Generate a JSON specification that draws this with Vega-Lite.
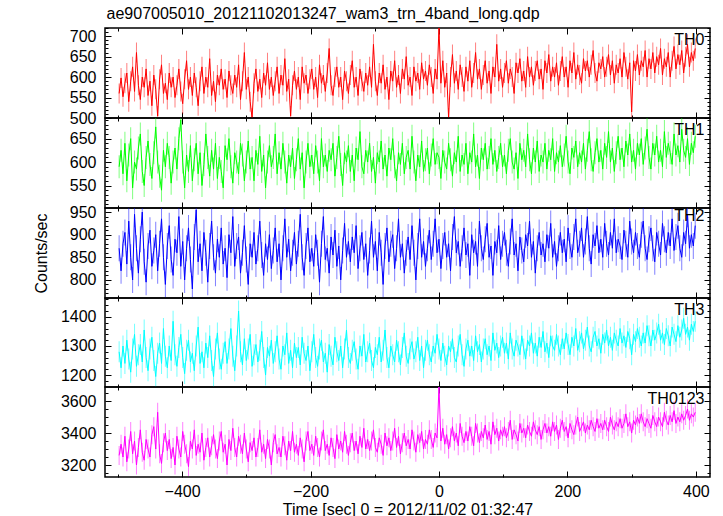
{
"$schema": "https://vega.github.io/schema/vega-lite/v6.json",
"padding": {"left": 32, "top": 5, "right": 5, "bottom": 0},
"title": {"text": "ae907005010_20121102013247_wam3_trn_4band_long.qdp", "anchor": "start", "offset": 5, "dx": 74},
"spacing": 0,
"bounds": "flush",
"config": {
"font": "Liberation Sans",
"view": {"stroke": "black", "strokeWidth": 1.5},
"axis": {"domain": false, "grid": false, "tickColor": "black", "tickSize": -6, "tickWidth": 1, "labelFont": "Liberation Sans", "labelFontSize": 16, "labelColor": "black", "labelPadding": 15, "labelOverlap": false, "labelFlush": false, "titleFont": "Liberation Sans", "titleFontSize": 16, "titleFontWeight": "normal", "titleColor": "black", "format": "d"},
"title": {"font": "Liberation Sans", "fontSize": 16, "fontWeight": "normal", "color": "black"}
},
"data": {"values": [
{"t":-498,"a":560,"b":590,"c":870,"d":1280,"e":3260},
{"t":-495,"a":598,"b":625,"c":820,"d":1225,"e":3330},
{"t":-492,"a":552,"b":575,"c":880,"d":1300,"e":3250},
{"t":-489,"a":585,"b":640,"c":905,"d":1240,"e":3380},
{"t":-486,"a":610,"b":560,"c":835,"d":1320,"e":3220},
{"t":-483,"a":540,"b":615,"c":930,"d":1255,"e":3300},
{"t":-480,"a":590,"b":650,"c":850,"d":1210,"e":3410},
{"t":-477,"a":625,"b":545,"c":800,"d":1290,"e":3270},
{"t":-474,"a":565,"b":600,"c":945,"d":1340,"e":3350},
{"t":-471,"a":660,"b":585,"c":870,"d":1230,"e":3200},
{"t":-468,"a":580,"b":630,"c":815,"d":1270,"e":3310},
{"t":-465,"a":545,"b":660,"c":890,"d":1305,"e":3420},
{"t":-462,"a":600,"b":580,"c":950,"d":1245,"e":3280},
{"t":-459,"a":575,"b":550,"c":840,"d":1355,"e":3230},
{"t":-456,"a":620,"b":610,"c":795,"d":1260,"e":3360},
{"t":-453,"a":555,"b":645,"c":875,"d":1215,"e":3300},
{"t":-450,"a":590,"b":595,"c":910,"d":1290,"e":3250},
{"t":-447,"a":530,"b":565,"c":830,"d":1330,"e":3390},
{"t":-444,"a":605,"b":620,"c":865,"d":1250,"e":3440},
{"t":-441,"a":570,"b":675,"c":900,"d":1195,"e":3300},
{"t":-438,"a":505,"b":600,"c":820,"d":1275,"e":3530},
{"t":-435,"a":595,"b":570,"c":880,"d":1310,"e":3270},
{"t":-432,"a":630,"b":540,"c":935,"d":1240,"e":3210},
{"t":-429,"a":560,"b":625,"c":850,"d":1360,"e":3340},
{"t":-426,"a":585,"b":590,"c":790,"d":1265,"e":3400},
{"t":-423,"a":545,"b":640,"c":875,"d":1225,"e":3290},
{"t":-420,"a":610,"b":610,"c":920,"d":1300,"e":3360},
{"t":-417,"a":575,"b":555,"c":845,"d":1250,"e":3240},
{"t":-414,"a":600,"b":600,"c":810,"d":1385,"e":3310},
{"t":-411,"a":550,"b":630,"c":890,"d":1270,"e":3200},
{"t":-408,"a":580,"b":585,"c":860,"d":1230,"e":3380},
{"t":-405,"a":620,"b":650,"c":940,"d":1295,"e":3300},
{"t":-402,"a":565,"b":690,"c":830,"d":1340,"e":3250},
{"t":-399,"a":535,"b":600,"c":885,"d":1260,"e":3410},
{"t":-396,"a":595,"b":545,"c":800,"d":1205,"e":3330},
{"t":-393,"a":640,"b":615,"c":870,"d":1285,"e":3270},
{"t":-390,"a":570,"b":580,"c":915,"d":1320,"e":3190},
{"t":-387,"a":600,"b":635,"c":845,"d":1245,"e":3350},
{"t":-384,"a":555,"b":560,"c":780,"d":1275,"e":3300},
{"t":-381,"a":610,"b":605,"c":895,"d":1215,"e":3420},
{"t":-378,"a":575,"b":640,"c":955,"d":1300,"e":3260},
{"t":-375,"a":530,"b":575,"c":840,"d":1365,"e":3330},
{"t":-372,"a":590,"b":620,"c":880,"d":1240,"e":3280},
{"t":-369,"a":625,"b":550,"c":820,"d":1280,"e":3400},
{"t":-366,"a":560,"b":595,"c":905,"d":1225,"e":3230},
{"t":-363,"a":600,"b":660,"c":860,"d":1310,"e":3310},
{"t":-360,"a":575,"b":610,"c":795,"d":1260,"e":3370},
{"t":-357,"a":645,"b":570,"c":875,"d":1335,"e":3250},
{"t":-354,"a":555,"b":625,"c":930,"d":1250,"e":3320},
{"t":-351,"a":590,"b":585,"c":850,"d":1195,"e":3390},
{"t":-348,"a":540,"b":640,"c":815,"d":1290,"e":3300},
{"t":-345,"a":605,"b":565,"c":890,"d":1345,"e":3240},
{"t":-342,"a":580,"b":610,"c":850,"d":1255,"e":3350},
{"t":-339,"a":620,"b":580,"c":915,"d":1220,"e":3410},
{"t":-336,"a":570,"b":545,"c":835,"d":1275,"e":3280},
{"t":-333,"a":595,"b":635,"c":870,"d":1315,"e":3330},
{"t":-330,"a":550,"b":605,"c":805,"d":1240,"e":3200},
{"t":-327,"a":615,"b":650,"c":900,"d":1290,"e":3360},
{"t":-324,"a":580,"b":590,"c":860,"d":1360,"e":3290},
{"t":-321,"a":560,"b":555,"c":940,"d":1265,"e":3430},
{"t":-318,"a":605,"b":620,"c":830,"d":1215,"e":3310},
{"t":-315,"a":575,"b":600,"c":875,"d":1300,"e":3250},
{"t":-312,"a":630,"b":575,"c":895,"d":1420,"e":3380},
{"t":-309,"a":545,"b":640,"c":815,"d":1280,"e":3330},
{"t":-306,"a":590,"b":615,"c":860,"d":1235,"e":3270},
{"t":-303,"a":660,"b":560,"c":920,"d":1325,"e":3400},
{"t":-300,"a":570,"b":600,"c":845,"d":1250,"e":3300},
{"t":-297,"a":600,"b":645,"c":790,"d":1290,"e":3220},
{"t":-294,"a":540,"b":585,"c":880,"d":1340,"e":3340},
{"t":-291,"a":500,"b":610,"c":850,"d":1230,"e":3290},
{"t":-288,"a":585,"b":560,"c":905,"d":1270,"e":3370},
{"t":-285,"a":620,"b":625,"c":835,"d":1305,"e":3250},
{"t":-282,"a":565,"b":595,"c":870,"d":1245,"e":3310},
{"t":-279,"a":595,"b":655,"c":930,"d":1285,"e":3420},
{"t":-276,"a":550,"b":580,"c":855,"d":1350,"e":3280},
{"t":-273,"a":610,"b":615,"c":810,"d":1260,"e":3330},
{"t":-270,"a":580,"b":545,"c":880,"d":1200,"e":3240},
{"t":-267,"a":635,"b":600,"c":845,"d":1295,"e":3360},
{"t":-264,"a":570,"b":635,"c":900,"d":1265,"e":3300},
{"t":-261,"a":600,"b":590,"c":825,"d":1320,"e":3200},
{"t":-258,"a":555,"b":610,"c":865,"d":1240,"e":3340},
{"t":-255,"a":590,"b":660,"c":915,"d":1280,"e":3390},
{"t":-252,"a":625,"b":575,"c":840,"d":1335,"e":3270},
{"t":-249,"a":560,"b":620,"c":880,"d":1255,"e":3310},
{"t":-246,"a":605,"b":585,"c":800,"d":1220,"e":3250},
{"t":-243,"a":580,"b":640,"c":870,"d":1300,"e":3380},
{"t":-240,"a":645,"b":600,"c":935,"d":1270,"e":3320},
{"t":-237,"a":565,"b":555,"c":850,"d":1345,"e":3230},
{"t":-234,"a":595,"b":615,"c":890,"d":1240,"e":3350},
{"t":-231,"a":505,"b":590,"c":820,"d":1285,"e":3290},
{"t":-228,"a":580,"b":630,"c":860,"d":1225,"e":3410},
{"t":-225,"a":615,"b":565,"c":905,"d":1310,"e":3280},
{"t":-222,"a":570,"b":605,"c":835,"d":1260,"e":3330},
{"t":-219,"a":600,"b":650,"c":880,"d":1295,"e":3260},
{"t":-216,"a":545,"b":585,"c":945,"d":1235,"e":3370},
{"t":-213,"a":625,"b":620,"c":850,"d":1330,"e":3300},
{"t":-210,"a":585,"b":545,"c":810,"d":1275,"e":3220},
{"t":-207,"a":605,"b":600,"c":875,"d":1250,"e":3350},
{"t":-204,"a":560,"b":640,"c":915,"d":1300,"e":3410},
{"t":-201,"a":595,"b":590,"c":840,"d":1215,"e":3290},
{"t":-198,"a":620,"b":615,"c":870,"d":1280,"e":3330},
{"t":-195,"a":570,"b":575,"c":830,"d":1340,"e":3260},
{"t":-192,"a":600,"b":635,"c":900,"d":1260,"e":3380},
{"t":-189,"a":550,"b":600,"c":860,"d":1230,"e":3310},
{"t":-186,"a":630,"b":560,"c":795,"d":1290,"e":3250},
{"t":-183,"a":585,"b":650,"c":880,"d":1320,"e":3350},
{"t":-180,"a":605,"b":590,"c":940,"d":1245,"e":3420},
{"t":-177,"a":565,"b":615,"c":845,"d":1275,"e":3290},
{"t":-174,"a":610,"b":580,"c":870,"d":1210,"e":3330},
{"t":-171,"a":670,"b":625,"c":815,"d":1305,"e":3260},
{"t":-168,"a":580,"b":605,"c":895,"d":1265,"e":3370},
{"t":-165,"a":555,"b":640,"c":855,"d":1235,"e":3310},
{"t":-162,"a":600,"b":570,"c":910,"d":1330,"e":3240},
{"t":-159,"a":625,"b":610,"c":830,"d":1280,"e":3390},
{"t":-156,"a":575,"b":655,"c":875,"d":1250,"e":3300},
{"t":-153,"a":600,"b":595,"c":800,"d":1300,"e":3350},
{"t":-150,"a":545,"b":550,"c":865,"d":1225,"e":3280},
{"t":-147,"a":615,"b":620,"c":925,"d":1290,"e":3410},
{"t":-144,"a":590,"b":600,"c":850,"d":1355,"e":3330},
{"t":-141,"a":560,"b":635,"c":885,"d":1260,"e":3260},
{"t":-138,"a":605,"b":580,"c":840,"d":1240,"e":3340},
{"t":-135,"a":640,"b":615,"c":895,"d":1285,"e":3400},
{"t":-132,"a":575,"b":560,"c":860,"d":1315,"e":3290},
{"t":-129,"a":600,"b":630,"c":920,"d":1255,"e":3350},
{"t":-126,"a":555,"b":605,"c":825,"d":1220,"e":3270},
{"t":-123,"a":620,"b":665,"c":870,"d":1300,"e":3380},
{"t":-120,"a":590,"b":590,"c":905,"d":1265,"e":3310},
{"t":-117,"a":565,"b":575,"c":845,"d":1340,"e":3430},
{"t":-114,"a":610,"b":625,"c":880,"d":1245,"e":3300},
{"t":-111,"a":580,"b":600,"c":810,"d":1280,"e":3360},
{"t":-108,"a":625,"b":640,"c":865,"d":1310,"e":3290},
{"t":-105,"a":575,"b":580,"c":930,"d":1250,"e":3350},
{"t":-102,"a":680,"b":610,"c":850,"d":1225,"e":3420},
{"t":-99,"a":590,"b":555,"c":885,"d":1295,"e":3310},
{"t":-96,"a":555,"b":620,"c":820,"d":1270,"e":3280},
{"t":-93,"a":610,"b":600,"c":905,"d":1330,"e":3370},
{"t":-90,"a":585,"b":645,"c":860,"d":1245,"e":3330},
{"t":-87,"a":630,"b":585,"c":790,"d":1285,"e":3260},
{"t":-84,"a":570,"b":615,"c":875,"d":1355,"e":3400},
{"t":-81,"a":600,"b":570,"c":915,"d":1260,"e":3320},
{"t":-78,"a":545,"b":630,"c":840,"d":1225,"e":3370},
{"t":-75,"a":615,"b":605,"c":880,"d":1300,"e":3290},
{"t":-72,"a":590,"b":650,"c":900,"d":1270,"e":3350},
{"t":-69,"a":640,"b":590,"c":825,"d":1245,"e":3430},
{"t":-66,"a":575,"b":560,"c":870,"d":1320,"e":3310},
{"t":-63,"a":605,"b":620,"c":935,"d":1280,"e":3380},
{"t":-60,"a":560,"b":595,"c":850,"d":1235,"e":3270},
{"t":-57,"a":620,"b":640,"c":880,"d":1295,"e":3340},
{"t":-54,"a":595,"b":575,"c":815,"d":1345,"e":3400},
{"t":-51,"a":650,"b":610,"c":860,"d":1265,"e":3320},
{"t":-48,"a":580,"b":625,"c":895,"d":1240,"e":3360},
{"t":-45,"a":600,"b":585,"c":845,"d":1290,"e":3300},
{"t":-42,"a":555,"b":655,"c":920,"d":1315,"e":3420},
{"t":-39,"a":625,"b":600,"c":860,"d":1255,"e":3350},
{"t":-36,"a":590,"b":560,"c":800,"d":1280,"e":3280},
{"t":-33,"a":610,"b":615,"c":875,"d":1330,"e":3390},
{"t":-30,"a":570,"b":590,"c":935,"d":1250,"e":3340},
{"t":-27,"a":635,"b":645,"c":850,"d":1300,"e":3410},
{"t":-24,"a":595,"b":580,"c":885,"d":1225,"e":3300},
{"t":-21,"a":615,"b":605,"c":830,"d":1285,"e":3360},
{"t":-18,"a":580,"b":630,"c":870,"d":1320,"e":3330},
{"t":-15,"a":630,"b":575,"c":910,"d":1270,"e":3420},
{"t":-12,"a":600,"b":615,"c":845,"d":1245,"e":3360},
{"t":-9,"a":560,"b":650,"c":880,"d":1300,"e":3310},
{"t":-6,"a":620,"b":595,"c":935,"d":1275,"e":3400},
{"t":-3,"a":595,"b":620,"c":860,"d":1340,"e":3370},
{"t":0,"a":720,"b":610,"c":890,"d":1290,"e":3690},
{"t":3,"a":585,"b":565,"c":825,"d":1250,"e":3350},
{"t":6,"a":640,"b":625,"c":875,"d":1310,"e":3430},
{"t":9,"a":575,"b":600,"c":905,"d":1265,"e":3330},
{"t":12,"a":610,"b":585,"c":850,"d":1235,"e":3390},
{"t":15,"a":500,"b":640,"c":880,"d":1300,"e":3300},
{"t":18,"a":600,"b":605,"c":820,"d":1280,"e":3370},
{"t":21,"a":655,"b":570,"c":895,"d":1325,"e":3440},
{"t":24,"a":585,"b":620,"c":940,"d":1260,"e":3350},
{"t":27,"a":615,"b":600,"c":860,"d":1245,"e":3400},
{"t":30,"a":570,"b":655,"c":885,"d":1300,"e":3320},
{"t":33,"a":630,"b":580,"c":830,"d":1340,"e":3460},
{"t":36,"a":600,"b":615,"c":870,"d":1270,"e":3380},
{"t":39,"a":565,"b":595,"c":915,"d":1230,"e":3340},
{"t":42,"a":625,"b":640,"c":855,"d":1290,"e":3410},
{"t":45,"a":590,"b":575,"c":880,"d":1320,"e":3350},
{"t":48,"a":640,"b":620,"c":810,"d":1265,"e":3440},
{"t":51,"a":575,"b":600,"c":900,"d":1300,"e":3380},
{"t":54,"a":610,"b":660,"c":860,"d":1250,"e":3320},
{"t":57,"a":660,"b":590,"c":885,"d":1335,"e":3460},
{"t":60,"a":595,"b":615,"c":830,"d":1280,"e":3400},
{"t":63,"a":620,"b":565,"c":930,"d":1305,"e":3340},
{"t":66,"a":570,"b":630,"c":870,"d":1245,"e":3410},
{"t":69,"a":605,"b":605,"c":845,"d":1290,"e":3370},
{"t":72,"a":640,"b":640,"c":890,"d":1325,"e":3450},
{"t":75,"a":585,"b":585,"c":925,"d":1270,"e":3360},
{"t":78,"a":615,"b":610,"c":850,"d":1300,"e":3410},
{"t":81,"a":560,"b":650,"c":875,"d":1250,"e":3330},
{"t":84,"a":625,"b":595,"c":810,"d":1345,"e":3470},
{"t":87,"a":600,"b":625,"c":885,"d":1285,"e":3390},
{"t":90,"a":680,"b":580,"c":860,"d":1310,"e":3430},
{"t":93,"a":590,"b":610,"c":920,"d":1260,"e":3350},
{"t":96,"a":620,"b":640,"c":845,"d":1300,"e":3420},
{"t":99,"a":575,"b":590,"c":880,"d":1330,"e":3380},
{"t":102,"a":610,"b":615,"c":905,"d":1275,"e":3440},
{"t":105,"a":640,"b":575,"c":860,"d":1310,"e":3370},
{"t":108,"a":585,"b":625,"c":830,"d":1255,"e":3410},
{"t":111,"a":620,"b":650,"c":885,"d":1345,"e":3480},
{"t":114,"a":600,"b":600,"c":935,"d":1290,"e":3360},
{"t":117,"a":560,"b":585,"c":855,"d":1265,"e":3420},
{"t":120,"a":635,"b":620,"c":880,"d":1320,"e":3390},
{"t":123,"a":610,"b":565,"c":820,"d":1300,"e":3350},
{"t":126,"a":645,"b":640,"c":895,"d":1270,"e":3460},
{"t":129,"a":590,"b":605,"c":865,"d":1335,"e":3400},
{"t":132,"a":615,"b":625,"c":840,"d":1290,"e":3430},
{"t":135,"a":575,"b":590,"c":900,"d":1255,"e":3370},
{"t":138,"a":650,"b":660,"c":875,"d":1320,"e":3450},
{"t":141,"a":600,"b":605,"c":930,"d":1300,"e":3410},
{"t":144,"a":625,"b":575,"c":850,"d":1345,"e":3380},
{"t":147,"a":580,"b":630,"c":885,"d":1275,"e":3470},
{"t":150,"a":615,"b":600,"c":815,"d":1310,"e":3420},
{"t":153,"a":640,"b":645,"c":870,"d":1265,"e":3390},
{"t":156,"a":595,"b":580,"c":905,"d":1330,"e":3440},
{"t":159,"a":620,"b":615,"c":855,"d":1295,"e":3360},
{"t":162,"a":570,"b":600,"c":880,"d":1350,"e":3420},
{"t":165,"a":640,"b":640,"c":840,"d":1280,"e":3460},
{"t":168,"a":610,"b":585,"c":900,"d":1310,"e":3400},
{"t":171,"a":655,"b":625,"c":870,"d":1260,"e":3440},
{"t":174,"a":590,"b":605,"c":925,"d":1335,"e":3380},
{"t":177,"a":625,"b":650,"c":850,"d":1300,"e":3470},
{"t":180,"a":600,"b":580,"c":885,"d":1285,"e":3410},
{"t":183,"a":635,"b":620,"c":830,"d":1340,"e":3450},
{"t":186,"a":580,"b":600,"c":870,"d":1300,"e":3360},
{"t":189,"a":615,"b":635,"c":905,"d":1270,"e":3430},
{"t":192,"a":650,"b":590,"c":860,"d":1325,"e":3480},
{"t":195,"a":600,"b":615,"c":890,"d":1290,"e":3410},
{"t":198,"a":625,"b":655,"c":840,"d":1345,"e":3440},
{"t":201,"a":575,"b":600,"c":915,"d":1305,"e":3370},
{"t":204,"a":640,"b":575,"c":875,"d":1270,"e":3460},
{"t":207,"a":610,"b":630,"c":850,"d":1330,"e":3420},
{"t":210,"a":660,"b":610,"c":895,"d":1300,"e":3390},
{"t":213,"a":595,"b":645,"c":935,"d":1360,"e":3450},
{"t":216,"a":630,"b":590,"c":860,"d":1285,"e":3500},
{"t":219,"a":605,"b":620,"c":880,"d":1315,"e":3410},
{"t":222,"a":585,"b":600,"c":915,"d":1345,"e":3440},
{"t":225,"a":645,"b":640,"c":850,"d":1290,"e":3470},
{"t":228,"a":615,"b":585,"c":885,"d":1320,"e":3400},
{"t":231,"a":640,"b":625,"c":940,"d":1365,"e":3450},
{"t":234,"a":600,"b":665,"c":870,"d":1300,"e":3420},
{"t":237,"a":630,"b":605,"c":835,"d":1280,"e":3480},
{"t":240,"a":665,"b":580,"c":900,"d":1330,"e":3440},
{"t":243,"a":610,"b":620,"c":875,"d":1350,"e":3410},
{"t":246,"a":590,"b":650,"c":920,"d":1300,"e":3490},
{"t":249,"a":635,"b":600,"c":860,"d":1325,"e":3430},
{"t":252,"a":620,"b":625,"c":890,"d":1275,"e":3460},
{"t":255,"a":650,"b":585,"c":850,"d":1340,"e":3420},
{"t":258,"a":600,"b":640,"c":925,"d":1310,"e":3480},
{"t":261,"a":625,"b":610,"c":880,"d":1355,"e":3440},
{"t":264,"a":655,"b":665,"c":855,"d":1300,"e":3410},
{"t":267,"a":605,"b":600,"c":905,"d":1330,"e":3500},
{"t":270,"a":640,"b":630,"c":870,"d":1285,"e":3450},
{"t":273,"a":585,"b":580,"c":935,"d":1345,"e":3420},
{"t":276,"a":630,"b":620,"c":860,"d":1320,"e":3470},
{"t":279,"a":610,"b":655,"c":890,"d":1300,"e":3440},
{"t":282,"a":645,"b":605,"c":875,"d":1360,"e":3490},
{"t":285,"a":600,"b":630,"c":845,"d":1310,"e":3430},
{"t":288,"a":660,"b":590,"c":910,"d":1335,"e":3460},
{"t":291,"a":625,"b":645,"c":880,"d":1295,"e":3520},
{"t":294,"a":595,"b":615,"c":850,"d":1350,"e":3440},
{"t":297,"a":635,"b":660,"c":930,"d":1325,"e":3470},
{"t":300,"a":515,"b":600,"c":885,"d":1270,"e":3400},
{"t":303,"a":640,"b":625,"c":860,"d":1340,"e":3480},
{"t":306,"a":615,"b":585,"c":905,"d":1315,"e":3450},
{"t":309,"a":655,"b":640,"c":875,"d":1360,"e":3500},
{"t":312,"a":605,"b":615,"c":850,"d":1330,"e":3460},
{"t":315,"a":640,"b":650,"c":900,"d":1300,"e":3520},
{"t":318,"a":625,"b":595,"c":930,"d":1345,"e":3470},
{"t":321,"a":665,"b":630,"c":870,"d":1310,"e":3440},
{"t":324,"a":600,"b":670,"c":845,"d":1370,"e":3490},
{"t":327,"a":645,"b":610,"c":890,"d":1335,"e":3460},
{"t":330,"a":620,"b":585,"c":915,"d":1300,"e":3430},
{"t":333,"a":660,"b":640,"c":870,"d":1355,"e":3510},
{"t":336,"a":610,"b":615,"c":840,"d":1320,"e":3470},
{"t":339,"a":650,"b":655,"c":905,"d":1345,"e":3440},
{"t":342,"a":630,"b":600,"c":880,"d":1375,"e":3500},
{"t":345,"a":670,"b":625,"c":855,"d":1320,"e":3470},
{"t":348,"a":605,"b":590,"c":925,"d":1345,"e":3440},
{"t":351,"a":645,"b":665,"c":890,"d":1305,"e":3530},
{"t":354,"a":625,"b":610,"c":860,"d":1360,"e":3480},
{"t":357,"a":660,"b":640,"c":905,"d":1335,"e":3450},
{"t":360,"a":600,"b":620,"c":875,"d":1300,"e":3510},
{"t":363,"a":640,"b":595,"c":935,"d":1365,"e":3470},
{"t":366,"a":675,"b":660,"c":865,"d":1340,"e":3540},
{"t":369,"a":620,"b":615,"c":895,"d":1315,"e":3460},
{"t":372,"a":655,"b":635,"c":920,"d":1370,"e":3500},
{"t":375,"a":630,"b":600,"c":870,"d":1330,"e":3470},
{"t":378,"a":665,"b":670,"c":850,"d":1355,"e":3520},
{"t":381,"a":610,"b":625,"c":905,"d":1395,"e":3480},
{"t":384,"a":650,"b":610,"c":880,"d":1340,"e":3510},
{"t":387,"a":680,"b":650,"c":945,"d":1365,"e":3550},
{"t":390,"a":625,"b":595,"c":870,"d":1320,"e":3480},
{"t":393,"a":660,"b":640,"c":900,"d":1375,"e":3520},
{"t":396,"a":640,"b":620,"c":875,"d":1350,"e":3500},
{"t":399,"a":670,"b":655,"c":920,"d":1385,"e":3530}
]},
"vconcat": [
{"width": 605, "height": 90,
 "title": {"text": "TH0", "anchor": "end", "offset": -20, "dx": -6},
 "layer": [
  {"mark": {"type": "tick", "orient": "vertical", "color": "#ff0000", "opacity": 0.5, "size": 20, "thickness": 1, "clip": true},
   "encoding": {"x": {"field": "t", "type": "quantitative", "scale": {"domain": [-520, 422], "nice": false, "zero": false}, "axis": {"orient": "bottom", "values": [-400,-200,0,200,400], "labels": false, "title": null}},
    "y": {"field": "a", "type": "quantitative", "scale": {"domain": [500, 720], "nice": false, "zero": false}, "axis": {"orient": "left", "values": [500,550,600,650,700], "title": null}}}},
  {"mark": {"type": "line", "color": "#ff0000", "strokeWidth": 1, "clip": true},
   "encoding": {"x": {"field": "t", "type": "quantitative", "axis": {"orient": "top", "values": [-400,-200,0,200,400], "labels": false, "title": null}},
    "y": {"field": "a", "type": "quantitative", "axis": {"orient": "right", "values": [500,550,600,650,700], "labels": false, "title": null}}}},
  {"mark": {"type": "line", "opacity": 0},
   "encoding": {"x": {"field": "t", "type": "quantitative", "axis": {"orient": "bottom", "values": [-500,-300,-100,100,300], "labels": false, "tickSize": -3, "title": null}},
    "y": {"field": "a", "type": "quantitative", "axis": {"orient": "left", "values": [510,520,530,540,560,570,580,590,610,620,630,640,660,670,680,690,710,720], "labels": false, "tickSize": -3, "title": null}}}},
  {"mark": {"type": "line", "opacity": 0},
   "encoding": {"x": {"field": "t", "type": "quantitative", "axis": {"orient": "top", "values": [-500,-300,-100,100,300], "labels": false, "tickSize": -3, "title": null}},
    "y": {"field": "a", "type": "quantitative", "axis": {"orient": "right", "values": [510,520,530,540,560,570,580,590,610,620,630,640,660,670,680,690,710,720], "labels": false, "tickSize": -3, "title": null}}}}
 ],
 "resolve": {"axis": {"x": "independent", "y": "independent"}}},
{"width": 605, "height": 90,
 "title": {"text": "TH1", "anchor": "end", "offset": -20, "dx": -6},
 "layer": [
  {"mark": {"type": "tick", "orient": "vertical", "color": "#00ff00", "opacity": 0.5, "size": 23, "thickness": 1, "clip": true},
   "encoding": {"x": {"field": "t", "type": "quantitative", "scale": {"domain": [-520, 422], "nice": false, "zero": false}, "axis": {"orient": "bottom", "values": [-400,-200,0,200,400], "labels": false, "title": null}},
    "y": {"field": "b", "type": "quantitative", "scale": {"domain": [502, 694], "nice": false, "zero": false}, "axis": {"orient": "left", "values": [550,600,650], "title": null}}}},
  {"mark": {"type": "line", "color": "#00ff00", "strokeWidth": 1, "clip": true},
   "encoding": {"x": {"field": "t", "type": "quantitative", "axis": {"orient": "top", "values": [-400,-200,0,200,400], "labels": false, "title": null}},
    "y": {"field": "b", "type": "quantitative", "axis": {"orient": "right", "values": [550,600,650], "labels": false, "title": null}}}},
  {"mark": {"type": "line", "opacity": 0},
   "encoding": {"x": {"field": "t", "type": "quantitative", "axis": {"orient": "bottom", "values": [-500,-300,-100,100,300], "labels": false, "tickSize": -3, "title": null}},
    "y": {"field": "b", "type": "quantitative", "axis": {"orient": "left", "values": [510,520,530,540,560,570,580,590,610,620,630,640,660,670,680,690], "labels": false, "tickSize": -3, "title": null}}}},
  {"mark": {"type": "line", "opacity": 0},
   "encoding": {"x": {"field": "t", "type": "quantitative", "axis": {"orient": "top", "values": [-500,-300,-100,100,300], "labels": false, "tickSize": -3, "title": null}},
    "y": {"field": "b", "type": "quantitative", "axis": {"orient": "right", "values": [510,520,530,540,560,570,580,590,610,620,630,640,660,670,680,690], "labels": false, "tickSize": -3, "title": null}}}}
 ],
 "resolve": {"axis": {"x": "independent", "y": "independent"}}},
{"width": 605, "height": 90,
 "title": {"text": "TH2", "anchor": "end", "offset": -20, "dx": -6},
 "layer": [
  {"mark": {"type": "tick", "orient": "vertical", "color": "#0000ff", "opacity": 0.5, "size": 26, "thickness": 1, "clip": true},
   "encoding": {"x": {"field": "t", "type": "quantitative", "scale": {"domain": [-520, 422], "nice": false, "zero": false}, "axis": {"orient": "bottom", "values": [-400,-200,0,200,400], "labels": false, "title": null}},
    "y": {"field": "c", "type": "quantitative", "scale": {"domain": [760, 959], "nice": false, "zero": false}, "axis": {"orient": "left", "values": [800,850,900,950], "title": "Counts/sec", "titlePadding": 20}}}},
  {"mark": {"type": "line", "color": "#0000ff", "strokeWidth": 1, "clip": true},
   "encoding": {"x": {"field": "t", "type": "quantitative", "axis": {"orient": "top", "values": [-400,-200,0,200,400], "labels": false, "title": null}},
    "y": {"field": "c", "type": "quantitative", "axis": {"orient": "right", "values": [800,850,900,950], "labels": false, "title": null}}}},
  {"mark": {"type": "line", "opacity": 0},
   "encoding": {"x": {"field": "t", "type": "quantitative", "axis": {"orient": "bottom", "values": [-500,-300,-100,100,300], "labels": false, "tickSize": -3, "title": null}},
    "y": {"field": "c", "type": "quantitative", "axis": {"orient": "left", "values": [770,780,790,810,820,830,840,860,870,880,890,910,920,930,940], "labels": false, "tickSize": -3, "title": null}}}},
  {"mark": {"type": "line", "opacity": 0},
   "encoding": {"x": {"field": "t", "type": "quantitative", "axis": {"orient": "top", "values": [-500,-300,-100,100,300], "labels": false, "tickSize": -3, "title": null}},
    "y": {"field": "c", "type": "quantitative", "axis": {"orient": "right", "values": [770,780,790,810,820,830,840,860,870,880,890,910,920,930,940], "labels": false, "tickSize": -3, "title": null}}}}
 ],
 "resolve": {"axis": {"x": "independent", "y": "independent"}}},
{"width": 605, "height": 89,
 "title": {"text": "TH3", "anchor": "end", "offset": -20, "dx": -6},
 "layer": [
  {"mark": {"type": "tick", "orient": "vertical", "color": "#00ffff", "opacity": 0.55, "size": 21, "thickness": 1, "clip": true},
   "encoding": {"x": {"field": "t", "type": "quantitative", "scale": {"domain": [-520, 422], "nice": false, "zero": false}, "axis": {"orient": "bottom", "values": [-400,-200,0,200,400], "labels": false, "title": null}},
    "y": {"field": "d", "type": "quantitative", "scale": {"domain": [1159, 1465], "nice": false, "zero": false}, "axis": {"orient": "left", "values": [1200,1300,1400], "title": null}}}},
  {"mark": {"type": "line", "color": "#00ffff", "strokeWidth": 1, "clip": true},
   "encoding": {"x": {"field": "t", "type": "quantitative", "axis": {"orient": "top", "values": [-400,-200,0,200,400], "labels": false, "title": null}},
    "y": {"field": "d", "type": "quantitative", "axis": {"orient": "right", "values": [1200,1300,1400], "labels": false, "title": null}}}},
  {"mark": {"type": "line", "opacity": 0},
   "encoding": {"x": {"field": "t", "type": "quantitative", "axis": {"orient": "bottom", "values": [-500,-300,-100,100,300], "labels": false, "tickSize": -3, "title": null}},
    "y": {"field": "d", "type": "quantitative", "axis": {"orient": "left", "values": [1180,1220,1240,1260,1280,1320,1340,1360,1380,1420,1440,1460], "labels": false, "tickSize": -3, "title": null}}}},
  {"mark": {"type": "line", "opacity": 0},
   "encoding": {"x": {"field": "t", "type": "quantitative", "axis": {"orient": "top", "values": [-500,-300,-100,100,300], "labels": false, "tickSize": -3, "title": null}},
    "y": {"field": "d", "type": "quantitative", "axis": {"orient": "right", "values": [1180,1220,1240,1260,1280,1320,1340,1360,1380,1420,1440,1460], "labels": false, "tickSize": -3, "title": null}}}}
 ],
 "resolve": {"axis": {"x": "independent", "y": "independent"}}},
{"width": 605, "height": 90,
 "title": {"text": "TH0123", "anchor": "end", "offset": -20, "dx": -6},
 "layer": [
  {"mark": {"type": "tick", "orient": "vertical", "color": "#ff00ff", "opacity": 0.5, "size": 19, "thickness": 1, "clip": true},
   "encoding": {"x": {"field": "t", "type": "quantitative", "scale": {"domain": [-520, 422], "nice": false, "zero": false}, "axis": {"orient": "bottom", "values": [-400,-200,0,200,400], "title": "Time [sec] 0 = 2012/11/02 01:32:47", "labelPadding": 12, "titlePadding": 2}},
    "y": {"field": "e", "type": "quantitative", "scale": {"domain": [3125, 3688], "nice": false, "zero": false}, "axis": {"orient": "left", "values": [3200,3400,3600], "title": null}}}},
  {"mark": {"type": "line", "color": "#ff00ff", "strokeWidth": 1, "clip": true},
   "encoding": {"x": {"field": "t", "type": "quantitative", "axis": {"orient": "top", "values": [-400,-200,0,200,400], "labels": false, "title": null}},
    "y": {"field": "e", "type": "quantitative", "axis": {"orient": "right", "values": [3200,3400,3600], "labels": false, "title": null}}}},
  {"mark": {"type": "line", "opacity": 0},
   "encoding": {"x": {"field": "t", "type": "quantitative", "axis": {"orient": "bottom", "values": [-500,-300,-100,100,300], "labels": false, "tickSize": -3, "title": null}},
    "y": {"field": "e", "type": "quantitative", "axis": {"orient": "left", "values": [3150,3250,3300,3350,3450,3500,3550,3650], "labels": false, "tickSize": -3, "title": null}}}},
  {"mark": {"type": "line", "opacity": 0},
   "encoding": {"x": {"field": "t", "type": "quantitative", "axis": {"orient": "top", "values": [-500,-300,-100,100,300], "labels": false, "tickSize": -3, "title": null}},
    "y": {"field": "e", "type": "quantitative", "axis": {"orient": "right", "values": [3150,3250,3300,3350,3450,3500,3550,3650], "labels": false, "tickSize": -3, "title": null}}}}
 ],
 "resolve": {"axis": {"x": "independent", "y": "independent"}}}
]
}
